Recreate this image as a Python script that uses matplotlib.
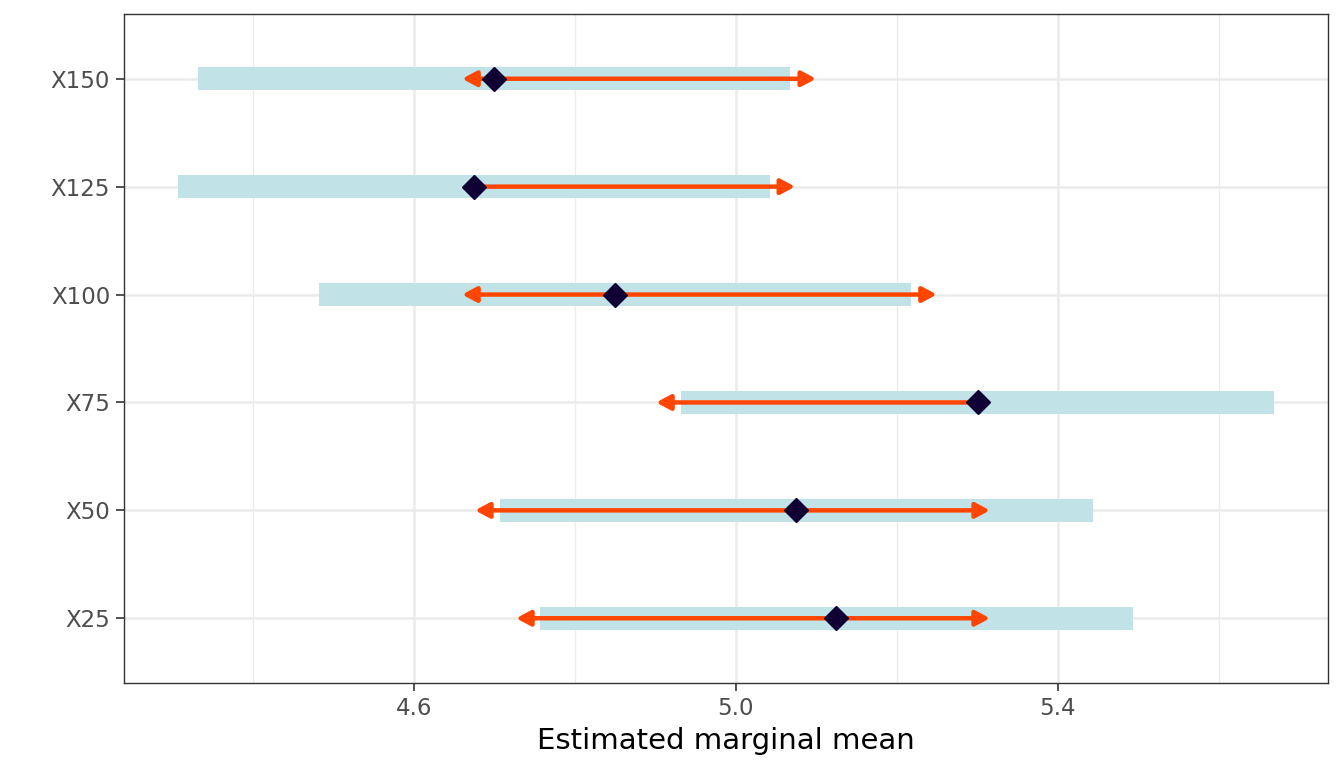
import matplotlib.pyplot as plt

# Estimated marginal means with confidence bars and comparison arrows
levels = ['X25', 'X50', 'X75', 'X100', 'X125', 'X150']
emmean = [5.125, 5.075, 5.301, 4.850, 4.675, 4.700]
ci_low = [4.757, 4.707, 4.932, 4.482, 4.307, 4.332]
ci_high = [5.494, 5.444, 5.669, 5.218, 5.043, 5.068]
# comparison arrow ends (None = no arrow on that side)
arrow_left = [4.727, 4.676, 4.901, 4.660, None, 4.660]
arrow_right = [5.316, 5.316, None, 5.250, 5.074, 5.100]

bar_color = '#C1E3E8'
arrow_color = '#FF4500'
point_color = '#110033'

fig = plt.figure(figsize=(13.44, 7.68), dpi=100)
ax = fig.add_axes([124 / 1344, 1 - 683 / 768, (1328 - 124) / 1344, (683 - 14) / 768])

ypos = list(range(1, len(levels) + 1))

# CI bars
widths = [h - l for l, h in zip(ci_low, ci_high)]
ax.barh(ypos, widths, left=ci_low, height=0.21, color=bar_color, zorder=2)

# comparison arrows
for y, m, lo, hi in zip(ypos, emmean, arrow_left, arrow_right):
    for end in (lo, hi):
        if end is None:
            continue
        ax.annotate('', xy=(end, y), xytext=(m, y),
                    arrowprops=dict(arrowstyle='-|>,head_length=0.85,head_width=0.45',
                                    color=arrow_color, lw=3.2,
                                    shrinkA=0, shrinkB=0, joinstyle='round',
                                    capstyle='butt'),
                    zorder=3)

# means
ax.plot(emmean, ypos, linestyle='none', marker='D', markersize=12,
        color=point_color, zorder=4)

ax.set_xlim(4.2401, 5.7358)
ax.set_ylim(0.4, len(levels) + 0.6)
ax.set_yticks(ypos)
ax.set_yticklabels(levels)
ax.set_xticks([4.6, 5.0, 5.4])
ax.set_xticklabels(['4.6', '5.0', '5.4'])
ax.set_xticks([4.4, 4.8, 5.2, 5.6], minor=True)

ax.grid(True, which='major', color='#EBEBEB', linewidth=1.8, zorder=0)
ax.grid(True, which='minor', axis='x', color='#EBEBEB', linewidth=0.9, zorder=0)
ax.set_axisbelow(True)

ax.tick_params(axis='both', which='major', length=6, width=1.2, color='#333333',
               labelsize=16.5, labelcolor='#4D4D4D', pad=4)
ax.tick_params(axis='x', which='minor', length=0)
for s in ax.spines.values():
    s.set_color('#333333')
    s.set_linewidth(1.0)

ax.set_xlabel('Estimated marginal mean', fontsize=21, color='black', labelpad=5)

fig.savefig('out.png', dpi=100)
